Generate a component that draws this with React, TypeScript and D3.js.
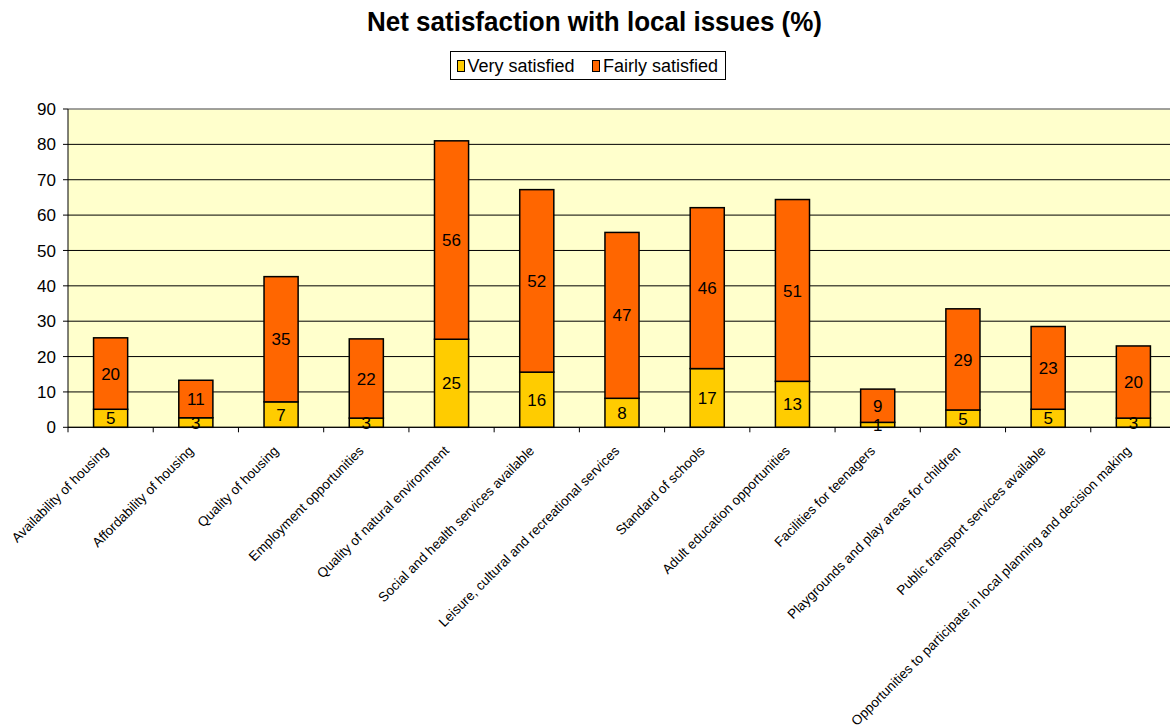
import React from "react";
import * as d3 from "d3";

const categories: string[] = [
  "Availability of housing",
  "Affordability of housing",
  "Quality of housing",
  "Employment opportunities",
  "Quality of natural environment",
  "Social and health services available",
  "Leisure, cultural and recreational services",
  "Standard of schools",
  "Adult education opportunities",
  "Facilities for teenagers",
  "Playgrounds and play areas for children",
  "Public transport services available",
  "Opportunities to participate in local planning and decision making",
];

const verySatisfied: number[] = [5.1, 2.7, 7.2, 2.6, 24.9, 15.6, 8.2, 16.6, 13.0, 1.4, 4.9, 5.1, 2.6];
const fairlySatisfied: number[] = [20.2, 10.6, 35.4, 22.4, 56.1, 51.6, 46.9, 45.5, 51.4, 9.4, 28.6, 23.4, 20.4];

const seriesNames: string[] = ["Very satisfied", "Fairly satisfied"];
const seriesColors: string[] = ["#FFCC00", "#FF6600"];
const yTicks: number[] = [0, 10, 20, 30, 40, 50, 60, 70, 80, 90];

const W = 1170;
const H = 727;
const plotLeft = 68;
const plotRight = 1176;
const plotTop = 109;
const plotBottom = 427.3;
const FONT = "Arial, 'Liberation Sans', sans-serif";

export default function App() {
  const x = d3
    .scaleBand<string>()
    .domain(categories)
    .range([plotLeft, plotRight])
    .paddingInner(0)
    .paddingOuter(0);
  const y = d3.scaleLinear().domain([0, 90]).range([plotBottom, plotTop]);

  const rows = categories.map((c, i) => ({
    cat: c,
    v: verySatisfied[i],
    f: fairlySatisfied[i],
  }));
  const stack = d3.stack<any>().keys(["v", "f"])(rows as any);

  const bw = x.bandwidth() * 0.4;

  return (
    <svg
      width={W}
      height={H}
      style={{ position: "absolute", left: 0, top: 0, background: "#fff" }}
      fontFamily={FONT}
    >
      {/* Title */}
      <text
        x={594.5}
        y={31}
        textAnchor="middle"
        fontSize={27}
        fontWeight="bold"
        fill="#000"
        textLength={455}
        lengthAdjust="spacingAndGlyphs"
      >
        Net satisfaction with local issues (%)
      </text>

      {/* Legend */}
      <g>
        <rect x={450.5} y={51.5} width={275} height={28} fill="#fff" stroke="#000" strokeWidth={1} />
        <rect x={457.5} y={60.5} width={7} height={11} fill={seriesColors[0]} stroke="#000" />
        <text x={467.5} y={72} fontSize={18} fill="#000">{seriesNames[0]}</text>
        <rect x={592.5} y={60.5} width={7} height={11} fill={seriesColors[1]} stroke="#000" />
        <text x={603} y={72} fontSize={18} fill="#000">{seriesNames[1]}</text>
      </g>

      {/* Plot background */}
      <rect x={plotLeft} y={plotTop} width={plotRight - plotLeft} height={plotBottom - plotTop} fill="#FFFFCC" />

      {/* Gridlines */}
      {yTicks.map((t) => (
        <line
          key={"g" + t}
          x1={plotLeft}
          x2={plotRight}
          y1={y(t)}
          y2={y(t)}
          stroke={t === 90 ? "#808080" : "#000"}
          strokeWidth={t === 90 ? 1.5 : 1}
        />
      ))}

      {/* Y axis */}
      <line x1={plotLeft} x2={plotLeft} y1={plotTop} y2={plotBottom} stroke="#000" />
      {yTicks.map((t) => (
        <g key={"yt" + t}>
          <line x1={plotLeft - 5} x2={plotLeft} y1={y(t)} y2={y(t)} stroke="#000" />
          <text x={plotLeft - 12} y={y(t)} dy="0.36em" textAnchor="end" fontSize={17} fill="#000">
            {t}
          </text>
        </g>
      ))}

      {/* Bars */}
      {stack.map((s, si) => (
        <g key={"s" + si}>
          {s.map((d: any, i: number) => {
            const cx = (x(categories[i]) as number) + x.bandwidth() / 2;
            const y0 = y(d[0]);
            const y1 = y(d[1]);
            return (
              <rect
                key={i}
                x={cx - bw / 2}
                y={y1}
                width={bw}
                height={y0 - y1}
                fill={seriesColors[si]}
                stroke="#000"
                strokeWidth={1.5}
              />
            );
          })}
        </g>
      ))}

      {/* Bar labels */}
      {stack.map((s, si) => (
        <g key={"l" + si}>
          {s.map((d: any, i: number) => {
            const cx = (x(categories[i]) as number) + x.bandwidth() / 2;
            const val = si === 0 ? verySatisfied[i] : fairlySatisfied[i];
            const ym = y((d[0] + d[1]) / 2);
            return (
              <text key={i} x={cx} y={ym} dy="0.36em" textAnchor="middle" fontSize={17} fill="#000">
                {Math.round(val)}
              </text>
            );
          })}
        </g>
      ))}

      {/* X axis */}
      <line x1={plotLeft} x2={plotRight} y1={plotBottom} y2={plotBottom} stroke="#000" />
      {categories.map((c, i) => (
        <line
          key={"xt" + i}
          x1={plotLeft + i * x.bandwidth()}
          x2={plotLeft + i * x.bandwidth()}
          y1={plotBottom}
          y2={plotBottom + 5}
          stroke="#000"
        />
      ))}
      {categories.map((c) => {
        const cx = (x(c) as number) + x.bandwidth() / 2;
        return (
          <text
            key={"xl" + c}
            transform={`translate(${cx - 5},${plotBottom + 21}) rotate(-45)`}
            textAnchor="end"
            dy="0.35em"
            fontSize={13.5}
            fill="#000"
          >
            {c}
          </text>
        );
      })}
    </svg>
  );
}
